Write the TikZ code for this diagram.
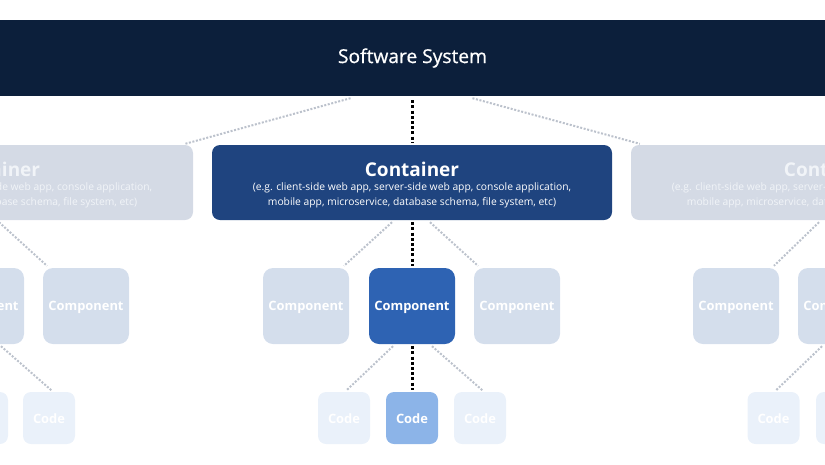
\documentclass[tikz,border=0pt]{standalone}
\usepackage{fontspec}
\setmainfont{Open Sans}
\usetikzlibrary{calc}
\definecolor{navy}{HTML}{0C1F3B}
\definecolor{contblue}{HTML}{1F447F}
\definecolor{contfade}{HTML}{D4DAE5}
\definecolor{compblue}{HTML}{2E63B3}
\definecolor{compfade}{HTML}{D4DEEC}
\definecolor{codeblue}{HTML}{8CB4E8}
\definecolor{codefade}{HTML}{EAF1FA}
\definecolor{dotgrey}{HTML}{BCC2CC}
\definecolor{fadetext}{HTML}{F1F4F8}
\tikzset{
  x=1pt,y=-1pt,
  contbox/.style={rounded corners=8pt, minimum width=400pt, minimum height=75pt, inner sep=0pt},
  compbox/.style={rounded corners=10pt, minimum width=86pt, minimum height=76pt, inner sep=0pt},
  codebox/.style={rounded corners=8pt, minimum width=52pt, minimum height=52pt, inner sep=0pt},
  boxlabel/.style={font=\fontsize{12.9}{15}\selectfont\bfseries, text=white, inner sep=0pt},
  blackdot/.style={line width=3pt, dash pattern=on 3pt off 2.2pt, black},
  greydot/.style={line width=2pt, dash pattern=on 2pt off 1.6pt, dotgrey},
  titletext/.style={font=\fontsize{19}{22}\selectfont\bfseries},
  subtext/.style={font=\fontsize{10.3}{15}\selectfont, align=center},
}
\begin{document}
\begin{tikzpicture}
\useasboundingbox (0,0) rectangle (825,464);
\clip (0,0) rectangle (825,464);
% top band
\node[fill=navy, minimum width=825pt, minimum height=76pt, inner sep=0pt, text=white,
  font=\fontsize{19.2}{22}\selectfont\addfontfeature{FakeBold=0.7}] (sys) at (412.5,58) {Software System};
% containers
\node[contbox, fill=contfade] (contL) at (-7,182.5) {};
\node[contbox, fill=contblue] (cont) at (412,182.5) {};
\node[contbox, fill=contfade] (contR) at (831,182.5) {};
\foreach \n/\c in {contL/fadetext, cont/white, contR/fadetext}{
  \node[titletext, text=\c] (\n-t) at ($(\n.center)+(0,-13.5)$) {Container};
  \node[subtext, text=\c] (\n-s) at ($(\n.center)+(0,13)$) {(e.g. client-side web app, server-side web app, console application,\\mobile app, microservice, database schema, file system, etc)};
}
% components
\node[compbox, fill=compfade] (cL1) at (-19,306) {};
\node[compbox, fill=compfade] (cL2) at (86,306) {};
\node[compbox, fill=compfade] (c1) at (306,306) {};
\node[compbox, fill=compblue] (c2) at (412,306) {};
\node[compbox, fill=compfade] (c3) at (517,306) {};
\node[compbox, fill=compfade] (cR1) at (736,306) {};
\node[compbox, fill=compfade] (cR2) at (841,306) {};
\foreach \n in {cL1,cL2,c1,c2,c3,cR1,cR2}{
  \node[boxlabel] (\n-l) at ($(\n.center)+(0,1.5)$) {Component};
}
% codes
\node[codebox, fill=codefade] (kL1) at (-18,418) {};
\node[codebox, fill=codefade] (kL2) at (49,418) {};
\node[codebox, fill=codefade] (k1) at (344,418) {};
\node[codebox, fill=codeblue] (k2) at (412,418) {};
\node[codebox, fill=codefade] (k3) at (480,418) {};
\node[codebox, fill=codefade] (kR1) at (773.5,418) {};
\node[codebox, fill=codefade] (kR2) at (842,418) {};
\foreach \n in {kL1,kL2,k1,k2,k3,kR1,kR2}{
  \node[boxlabel] (\n-l) at ($(\n.center)+(0,1)$) {Code};
}
% connectors: system -> containers
\draw[blackdot] ([yshift=-4pt]sys.south -| cont.north) -- ([yshift=2pt]cont.north);
\draw[greydot] ([xshift=-62pt,yshift=-2pt]sys.south) -- ([xshift=-8pt,yshift=1pt]contL.north east);
\draw[greydot] ([xshift=60pt,yshift=-2pt]sys.south) -- ([xshift=9pt,yshift=1pt]contR.north west);
% containers -> components
\draw[blackdot] ([yshift=-2pt]cont.south) -- ([yshift=2pt]c2.north);
\draw[greydot] ([xshift=-20pt,yshift=-2pt]cont.south) -- ([xshift=38pt,yshift=2pt]c1.north);
\draw[greydot] ([xshift=18pt,yshift=-2pt]cont.south) -- ([xshift=-39pt,yshift=2pt]c3.north);
\draw[greydot] ([xshift=6pt,yshift=-2pt]contL.south) -- ([xshift=-39pt,yshift=2pt]cL2.north);
\draw[greydot] ([xshift=-12pt,yshift=-2pt]contR.south) -- ([xshift=38pt,yshift=2pt]cR1.north);
% components -> codes
\draw[blackdot] ([yshift=-2pt]c2.south) -- ([yshift=2pt]k2.north);
\draw[greydot] ([xshift=-19pt,yshift=-2pt]c2.south) -- ([xshift=2pt,yshift=1pt]k1.north);
\draw[greydot] ([xshift=20pt,yshift=-2pt]c2.south) -- ([xshift=3pt,yshift=1pt]k3.north);
\draw[greydot] ([xshift=20pt,yshift=-2pt]cL1.south) -- ([xshift=3pt,yshift=1pt]kL2.north);
\draw[greydot] ([xshift=-19pt,yshift=-2pt]cR2.south) -- ([xshift=2pt,yshift=1pt]kR1.north);
\end{tikzpicture}
\end{document}
